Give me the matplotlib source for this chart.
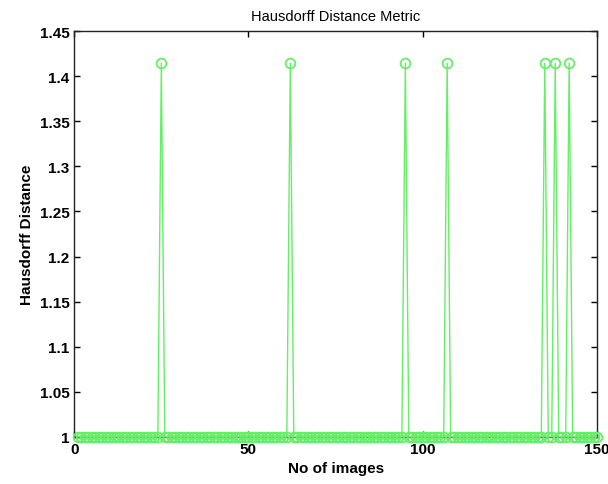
import numpy as np
import matplotlib
matplotlib.use('Agg')
from matplotlib import pyplot as plt

plt.rcParams['font.family'] = ['Liberation Sans', 'DejaVu Sans']

# image index 1..150, distance is 1 except at a few spikes
n_images = 150
spike_idx = [25, 62, 95, 107, 135, 138, 142]
spike_val = 1.4142
base_val = 1.0

x = np.arange(1, n_images + 1)
y = np.full(n_images, base_val)
for i in spike_idx:
    y[i - 1] = spike_val

fig = plt.figure(figsize=(6.08, 4.85), dpi=100)
ax = fig.add_axes([0.122, 0.097, 0.86, 0.837])
ax.plot(x, y, '-o', color='#66ee66', linewidth=1.0, markersize=7,
        markerfacecolor='none', markeredgewidth=1.3, clip_on=False, zorder=3)

ax.set_xlim(0, 150)
ax.set_ylim(1, 1.45)
ax.set_xticks([0, 50, 100, 150])
ax.set_yticks(np.round(np.arange(1.0, 1.451, 0.05), 2))
ax.set_yticklabels(['1', '1.05', '1.1', '1.15', '1.2', '1.25', '1.3', '1.35', '1.4', '1.45'])
ax.tick_params(direction='in', top=True, right=True, labelsize=11, length=4, width=1)
for lbl in ax.get_xticklabels() + ax.get_yticklabels():
    lbl.set_fontweight('bold')
for sp in ax.spines.values():
    sp.set_linewidth(1.0)
    sp.set_color('#222222')

ax.set_xlabel('No of images', fontsize=11, fontweight='bold')
ax.set_ylabel('Hausdorff Distance', fontsize=11, fontweight='bold')
ax.set_title('Hausdorff Distance Metric', fontsize=10.5, pad=8)

plt.savefig('out.png', dpi=100)
plt.close()
